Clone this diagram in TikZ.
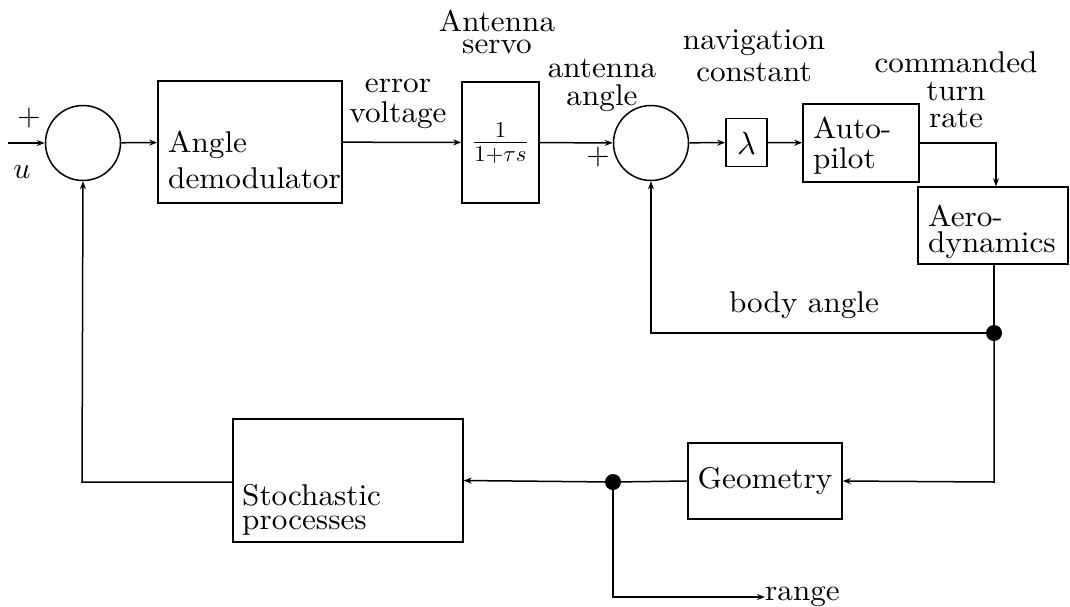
\documentclass[tikz,border=0pt]{standalone}
\usepackage{fontspec}
\setmainfont{lmroman10-regular.otf}[FakeStretch=1.04]
\DeclareFontShape{OML}{cmm}{m}{it}{<-> cmmi10}{\skewchar\font=127}
\DeclareFontShape{OT1}{cmr}{m}{n}{<-> cmr10}{}
\DeclareFontShape{OMS}{cmsy}{m}{n}{<-> cmsy10}{\skewchar\font=48}
\DeclareFontShape{OMX}{cmex}{m}{n}{<-> cmex10}{}
\usetikzlibrary{arrows.meta,calc}
\tikzset{
  blk/.style={draw, line width=1.5pt, rectangle, inner sep=0pt},
  sumj/.style={draw, line width=1.5pt, circle, minimum size=75pt, inner sep=0pt},
  txt/.style={inner sep=0pt, font=\fontsize{30}{30}\selectfont},
  conn/.style={line width=1.5pt, -{Stealth[length=8pt,width=6pt]}},
  wire/.style={line width=1.5pt},
  jdot/.style={circle, fill, inner sep=0pt, minimum size=16pt},
}
\begin{document}
\begin{tikzpicture}[x=1pt,y=-1pt]
\useasboundingbox (0,0) rectangle (1070,606);
% summing junctions
\node[sumj] (c1) at (83,143) {};
\node[sumj] (c2) at (651,143) {};
% blocks
\node[blk, minimum width=184pt, minimum height=122pt] (demod) at (250,142) {};
\node[blk, minimum width=77pt, minimum height=121pt] (servo) at (500.5,142.5) {};
\node[blk, minimum width=41pt, minimum height=48pt] (lam) at (746.5,142.5) {};
\node[blk, minimum width=116pt, minimum height=78pt] (auto) at (861,143) {};
\node[blk, minimum width=150pt, minimum height=77pt] (aero) at (993,225.5) {};
\node[blk, minimum width=154pt, minimum height=76pt] (geom) at (765,481) {};
\node[blk, minimum width=230pt, minimum height=123pt] (stoch) at (348,480.5) {};
% block texts
\node[txt, anchor=west, align=left, font=\fontsize{30}{36}\selectfont] (demodt) at (168,159.5) {Angle\\demodulator};
\node[txt, font=\fontsize{32.5}{32}\selectfont] (servot) at (500.5,143.5) {$\frac{1}{1+\tau s}$};
\node[txt, font=\fontsize{32}{32}\selectfont] (lamt) at (746.5,143) {$\lambda$};
\node[txt, anchor=west, align=left] (autot) at (813,146) {Auto-\\pilot};
\node[txt, anchor=west, align=left, font=\fontsize{30}{26}\selectfont] (aerot) at (928,232) {Aero-\\dynamics};
\node[txt] (geomt) at (765,481) {Geometry};
\node[txt, anchor=west, align=left, font=\fontsize{30}{24}\selectfont] (stocht) at (242,510) {Stochastic\\processes};
% labels
\node[txt] (plus1) at (29,118) {$+$};
\node[txt] (ulab) at (22,172) {$u$};
\node[txt] (plus2) at (598,157) {$+$};
\node[txt, align=center] (errl) at (398,103.5) {error\\voltage};
\node[txt, align=center, font=\fontsize{30}{21.5}\selectfont] (antl) at (497,32) {Antenna\\servo};
\node[txt, align=center, font=\fontsize{30}{28}\selectfont] (angl) at (602,85) {antenna\\angle};
\node[txt, align=center, font=\fontsize{30}{32}\selectfont] (navl) at (754,56) {navigation\\constant};
\node[txt, align=center, font=\fontsize{30}{27.5}\selectfont] (coml) at (956,90) {commanded\\turn\\rate};
\node[txt, anchor=base] (bodyl) at (804,312) {body angle};
\node[txt, anchor=base west] (range) at (765,600) {range};
% junction points
\node[jdot] (d1) at (994,333) {};
\node[jdot] (d2) at (613,482) {};
\coordinate (in) at (8,143);
\coordinate (t1) at (996,143);
\coordinate (t2) at (994,482);
\coordinate (t3) at (651,333);
\coordinate (t4) at (613,597);
\coordinate (t5) at (82,482);
% connectors
\draw[conn] (in) -- (c1);
\draw[conn] (c1) -- (demod);
\draw[conn] (demod) -- (servo);
\draw[conn] (servo) -- (c2);
\draw[conn] (c2) -- (lam);
\draw[conn] (lam) -- (auto);
\draw[conn] (auto.east) -- (t1) -- (t1 |- aero.north);
\draw[wire] (aero.south -| d1) -- (d1);
\draw[conn] (d1) -- (t2) -- (geom.east);
\draw[conn] (d1) -- (t3) -- (c2.south);
\draw[wire] (geom.west) -- (d2);
\draw[conn] (d2) -- (stoch.east);
\draw[conn] (d2) -- (t4) -- (range.west |- t4);
\draw[conn] (stoch.west |- t5) -- (t5) -- (c1.south);
\end{tikzpicture}
\end{document}
